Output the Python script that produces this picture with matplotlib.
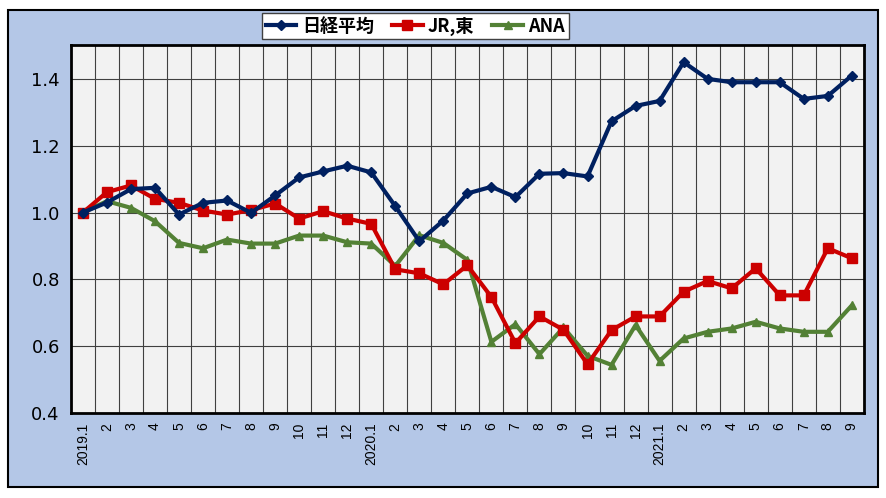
import matplotlib.pyplot as plt
from matplotlib.patches import Rectangle
import numpy as np

plt.rcParams['font.family'] = ['Noto Sans CJK JP', 'DejaVu Sans']

labels = ['2019.1', '2', '3', '4', '5', '6', '7', '8', '9', '10', '11', '12',
          '2020.1', '2', '3', '4', '5', '6', '7', '8', '9', '10', '11', '12',
          '2021.1', '2', '3', '4', '5', '6', '7', '8', '9']

nikkei = [1.00, 1.03, 1.07, 1.074, 0.994, 1.029, 1.036, 0.999, 1.051, 1.105, 1.123, 1.140,
          1.120, 1.019, 0.914, 0.976, 1.057, 1.077, 1.046, 1.116, 1.118, 1.108, 1.273, 1.319,
          1.334, 1.450, 1.400, 1.390, 1.390, 1.390, 1.340, 1.349, 1.410]
jr_east = [1.00, 1.061, 1.081, 1.041, 1.029, 1.006, 0.994, 1.007, 1.027, 0.982, 1.004, 0.982,
           0.966, 0.830, 0.818, 0.785, 0.842, 0.747, 0.609, 0.689, 0.649, 0.546, 0.648, 0.689,
           0.689, 0.763, 0.795, 0.773, 0.833, 0.752, 0.752, 0.893, 0.863]
ana = [1.00, 1.034, 1.014, 0.974, 0.909, 0.893, 0.919, 0.907, 0.907, 0.931, 0.931, 0.911,
       0.907, 0.840, 0.932, 0.909, 0.858, 0.613, 0.666, 0.576, 0.656, 0.571, 0.544, 0.663,
       0.556, 0.623, 0.643, 0.653, 0.673, 0.653, 0.643, 0.643, 0.722]

fig = plt.figure(figsize=(8.86, 4.98), dpi=100)
bg = Rectangle((0.009, 0.022), 0.982, 0.958, transform=fig.transFigure,
               facecolor='#b4c7e7', edgecolor='black', linewidth=1.5, zorder=-10)
fig.add_artist(bg)

ax = fig.add_axes([0.080, 0.1707, 0.895, 0.738])
ax.set_facecolor('#f2f2f2')

x = np.arange(len(labels))
ax.plot(x, nikkei, color='#002060', linewidth=3, marker='D', markersize=5, label='日経平均', zorder=5)
ax.plot(x, jr_east, color='#cc0000', linewidth=3, marker='s', markersize=7, label='JR,東', zorder=4)
ax.plot(x, ana, color='#538135', linewidth=3, marker='^', markersize=6, label='ANA', zorder=3)

ax.set_xlim(-0.5, len(labels) - 0.5)
ax.set_ylim(0.4, 1.5)
ax.set_yticks([0.4, 0.6, 0.8, 1.0, 1.2, 1.4])
ax.set_yticklabels(['0.4', '0.6', '0.8', '1.0', '1.2', '1.4'],
                   family=['Liberation Sans Narrow', 'DejaVu Sans'], fontsize=13)
ax.set_xticks(x)
ax.set_xticklabels(labels, rotation=90, fontsize=10, family=['Liberation Sans', 'DejaVu Sans'])
ax.tick_params(axis='x', length=0, pad=7)
ax.tick_params(axis='y', length=0, pad=8)

for b in np.arange(0.5, len(labels) - 0.5, 1):
    ax.axvline(b, color='#404040', linewidth=0.8, zorder=1)
for v in [0.6, 0.8, 1.0, 1.2, 1.4]:
    ax.axhline(v, color='#404040', linewidth=0.8, zorder=1)

for s in ax.spines.values():
    s.set_linewidth(2)
    s.set_color('black')

fig.legend(loc='upper center', bbox_to_anchor=(0.469, 0.974), ncol=3, frameon=True,
           fancybox=False, edgecolor='#404040', framealpha=1,
           prop={'size': 13, 'weight': 'bold'},
           handlelength=1.7, handletextpad=0.3, columnspacing=1.0,
           borderpad=0.2, borderaxespad=0)

fig.savefig('out.png', dpi=100)
